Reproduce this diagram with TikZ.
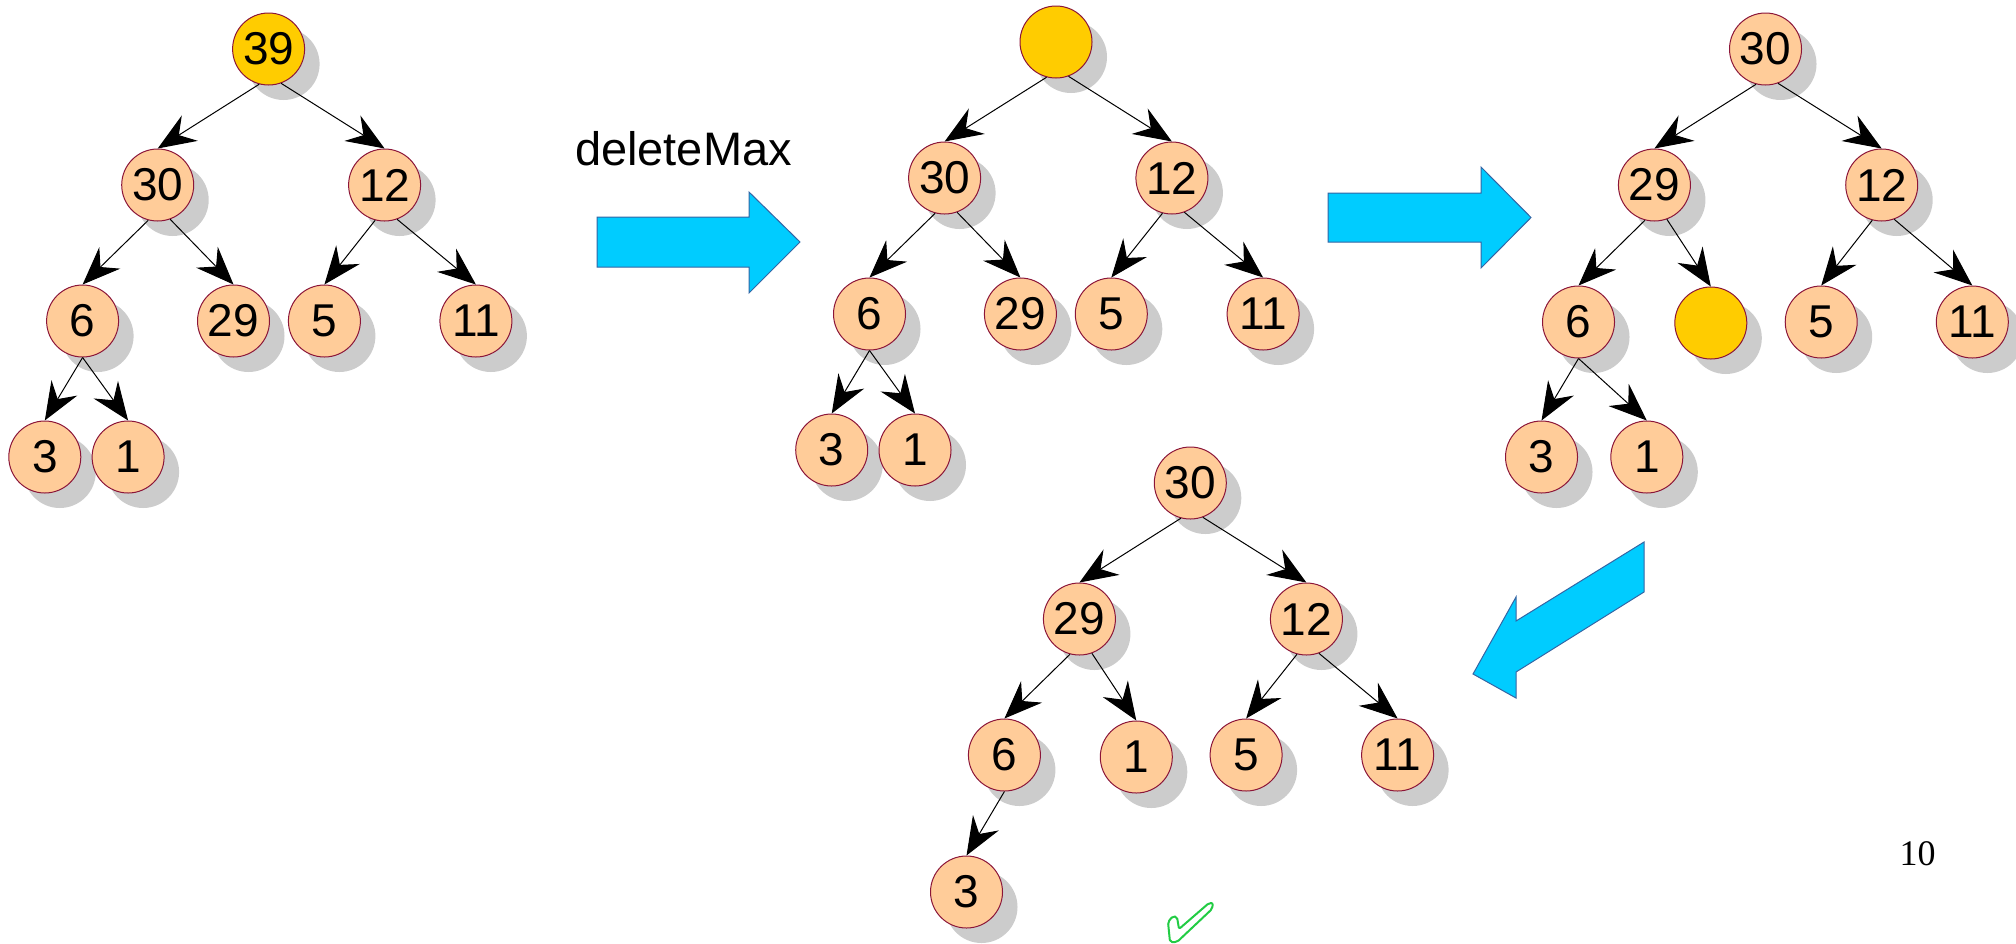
\documentclass[tikz,border=0pt]{standalone}
\usepackage{fontspec}
\setmainfont{Liberation Sans}
\newfontfamily\pagenumfont{Liberation Serif}
\usetikzlibrary{shadows,arrows.meta,calc}
\definecolor{peach}{HTML}{FFCC99}
\definecolor{gold}{HTML}{FFCC00}
\definecolor{rim}{HTML}{8B1538}
\definecolor{sky}{HTML}{00CCFF}
\definecolor{skyrim}{HTML}{3465A4}
\definecolor{tick}{HTML}{22CC44}
\begin{document}
\begin{tikzpicture}[x=0.5pt,y=-0.5pt,
  hnode/.style={circle, draw=rim, line width=0.5pt, fill=peach, minimum size=36pt, inner sep=0pt,
    font=\fontsize{23}{23}\selectfont,
    drop shadow={shadow xshift=7.5pt, shadow yshift=-7.5pt, fill=black!20, draw=none, opacity=1}},
  hole/.style={hnode, fill=gold},
  link/.style={line width=0.5pt, -{Stealth[length=19pt,width=15pt,inset=6.5pt]}},
  bigarrow/.style={fill=sky, draw=skyrim, line width=0.5pt, line join=miter}]
\useasboundingbox (0,0) rectangle (2016,943);

% ---------- tree A ----------
\node[hole]  (a39) at (268.6,49) {39};
\node[hnode] (a30) at (157.7,185) {30};
\node[hnode] (a12) at (384.6,185) {12};
\node[hnode] (a6)  at (82.6,321) {6};
\node[hnode] (a29) at (233.5,321) {29};
\node[hnode] (a5)  at (324.4,321) {5};
\node[hnode] (a11) at (475.9,321) {11};
\node[hnode] (a3)  at (44.8,457) {3};
\node[hnode] (a1)  at (128.1,457) {1};
\draw[link] (a39.255) -- (a30.north);
\draw[link] (a39.290) -- (a12.north);
\draw[link] (a30.255) -- (a6.north);
\draw[link] (a30.290) -- (a29.north);
\draw[link] (a12.255) -- (a5.north);
\draw[link] (a12.290) -- (a11.north);
\draw[link] (a6.south) -- (a3.north);
\draw[link] (a6.south) -- (a1.north);

% ---------- label + arrow ----------
\node[anchor=base, font=\fontsize{23.5}{23.5}\selectfont, inner sep=0pt] (lbl) at (683.5,165) {deleteMax};
\draw[bigarrow] (597,217) -- (749,217) -- (749,192) -- (800,242) -- (749,293) -- (749,267) -- (597,267) -- cycle;

% ---------- tree B ----------
\node[hole]  (b0)  at (1056,42) {};
\node[hnode] (b30) at (944.6,178) {30};
\node[hnode] (b12) at (1171.9,178) {12};
\node[hnode] (b6)  at (869.5,314) {6};
\node[hnode] (b29) at (1020.4,314) {29};
\node[hnode] (b5)  at (1111.3,314) {5};
\node[hnode] (b11) at (1263.1,314) {11};
\node[hnode] (b3)  at (831.7,450) {3};
\node[hnode] (b1)  at (915,450) {1};
\draw[link] (b0.255) -- (b30.north);
\draw[link] (b0.290) -- (b12.north);
\draw[link] (b30.255) -- (b6.north);
\draw[link] (b30.290) -- (b29.north);
\draw[link] (b12.255) -- (b5.north);
\draw[link] (b12.290) -- (b11.north);
\draw[link] (b6.south) -- (b3.north);
\draw[link] (b6.south) -- (b1.north);

\draw[bigarrow] (1328,193) -- (1481,193) -- (1481,167) -- (1531,217.5) -- (1481,268) -- (1481,242) -- (1328,242) -- cycle;

% ---------- tree C ----------
\node[hnode] (c30) at (1765.5,49) {30};
\node[hnode] (c29) at (1654.4,185) {29};
\node[hnode] (c12) at (1881.7,185) {12};
\node[hnode] (c6)  at (1578.5,322) {6};
\node[hole]  (c0)  at (1710.8,323) {};
\node[hnode] (c5)  at (1821.2,322) {5};
\node[hnode] (c11) at (1972.3,322) {11};
\node[hnode] (c3)  at (1541.5,457) {3};
\node[hnode] (c1)  at (1646.8,457) {1};
\draw[link] (c30.255) -- (c29.north);
\draw[link] (c30.290) -- (c12.north);
\draw[link] (c29.255) -- (c6.north);
\draw[link] (c29.290) -- (c0.north);
\draw[link] (c12.255) -- (c5.north);
\draw[link] (c12.290) -- (c11.north);
\draw[link] (c6.south) -- (c3.north);
\draw[link] (c6.south) -- (c1.north);

\draw[bigarrow] (1644,542) -- (1644,592) -- (1516,672) -- (1516,698) -- (1473,674) -- (1516,597) -- (1516,621) -- cycle;

% ---------- tree D ----------
\node[hnode] (d30) at (1190.3,483) {30};
\node[hnode] (d29) at (1079.4,619) {29};
\node[hnode] (d12) at (1306.4,619) {12};
\node[hnode] (d6)  at (1004.4,755) {6};
\node[hnode] (d1)  at (1136.3,757) {1};
\node[hnode] (d5)  at (1246.1,755) {5};
\node[hnode] (d11) at (1397.6,755) {11};
\node[hnode] (d3)  at (966.5,892) {3};
\draw[link] (d30.255) -- (d29.north);
\draw[link] (d30.290) -- (d12.north);
\draw[link] (d29.255) -- (d6.north);
\draw[link] (d29.290) -- (d1.north);
\draw[link] (d12.255) -- (d5.north);
\draw[link] (d12.290) -- (d11.north);
\draw[link] (d6.south) -- (d3.north);

% ---------- check mark ----------
\draw[tick, line width=1pt, rounded corners=1pt, line join=round]
  (1170,942) -- (1168,922) -- (1173,916) -- (1177,917) -- (1179,929) -- (1209,903) -- (1213,903) -- (1212,909) -- (1177,942) -- cycle;

% ---------- page number ----------
\node[anchor=base, inner sep=0pt, font=\pagenumfont\fontsize{18}{18}\selectfont] (pnum) at (1917.5,865) {10};
\end{tikzpicture}
\end{document}
